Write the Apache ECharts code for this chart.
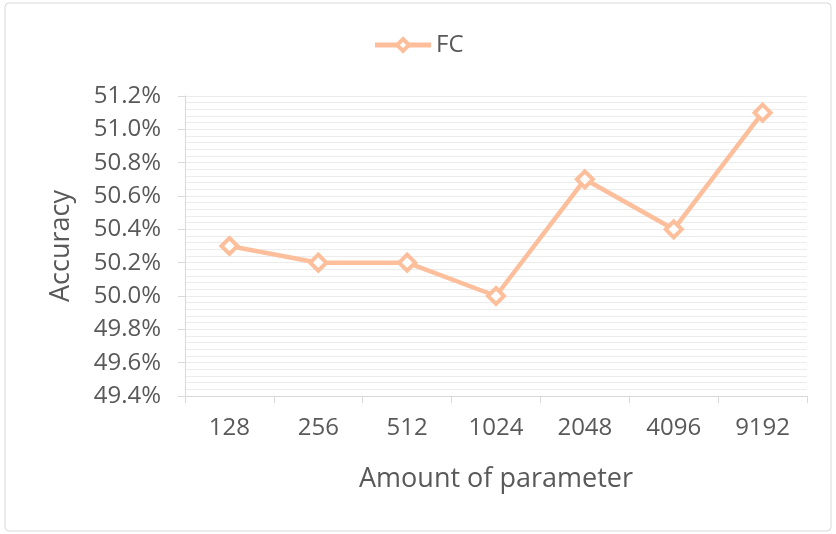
<!DOCTYPE html>
<html>
<head>
<meta charset="utf-8">
<script src="https://cdn.jsdelivr.net/npm/echarts@6/dist/echarts.min.js"></script>
<style>
  html, body { margin: 0; padding: 0; background: #fff; }
  #chart { width: 836px; height: 534px; }
</style>
</head>
<body>
<div id="chart"></div>
<script>
  // data
  var categories = ['128', '256', '512', '1024', '2048', '4096', '9192'];
  var accuracy = [50.3, 50.2, 50.2, 50.0, 50.7, 50.4, 51.1];
  var seriesName = 'FC';

  var lineColor = '#fdbf9b',
      textColor = '#595959',
      font = 'Open Sans';

  var myChart = echarts.init(document.getElementById('chart'));

  var option = {
    backgroundColor: '#fff',
    textStyle: { fontFamily: font },
    graphic: [{
      type: 'rect',
      shape: { x: 5, y: 3, width: 826, height: 528, r: 4 },
      style: { fill: 'none', stroke: '#d9d9d9', lineWidth: 1 },
      silent: true
    }],
    legend: {
      data: [seriesName],
      top: 28,
      left: 'center',
      itemWidth: 56,
      itemHeight: 15,
      itemGap: 2,
      lineStyle: { color: lineColor, width: 5 },
      itemStyle: { color: '#fff', borderColor: lineColor, borderWidth: 4 },
      textStyle: { color: textColor, fontSize: 24, fontFamily: font }
    },
    grid: {
      left: 185,
      right: 29,
      top: 96,
      bottom: 138
    },
    xAxis: {
      type: 'category',
      data: categories,
      name: 'Amount of parameter',
      nameLocation: 'middle',
      nameGap: 70,
      nameTextStyle: { color: textColor, fontSize: 27 },
      boundaryGap: true,
      axisLine: { lineStyle: { color: '#d9d9d9', width: 1 } },
      axisTick: { show: true, length: 7, lineStyle: { color: '#d9d9d9' } },
      axisLabel: { color: textColor, fontSize: 24, margin: 20 },
      splitLine: { show: false }
    },
    yAxis: {
      type: 'value',
      name: 'Accuracy',
      nameLocation: 'middle',
      nameGap: 110,
      nameTextStyle: { color: textColor, fontSize: 27 },
      min: 49.4,
      max: 51.2,
      interval: 0.2,
      axisLine: { show: true, lineStyle: { color: '#d9d9d9', width: 1 } },
      axisTick: { show: true, length: 7, lineStyle: { color: '#d9d9d9' } },
      axisLabel: {
        color: textColor,
        fontSize: 24,
        margin: 24,
        formatter: function (v) { return v.toFixed(1) + '%'; }
      },
      splitLine: { show: true, lineStyle: { color: '#ececec', width: 1 } },
      minorTick: { show: false, splitNumber: 5 },
      minorSplitLine: { show: true, lineStyle: { color: '#ececec', width: 1 } }
    },
    series: [{
      name: seriesName,
      type: 'line',
      data: accuracy,
      symbol: 'diamond',
      symbolSize: 16,
      showAllSymbol: true,
      lineStyle: { color: lineColor, width: 4.5 },
      itemStyle: { color: '#fff', borderColor: lineColor, borderWidth: 4 },
      emphasis: { disabled: true },
      animation: false
    }]
  };

  myChart.setOption(option);
</script>
</body>
</html>
